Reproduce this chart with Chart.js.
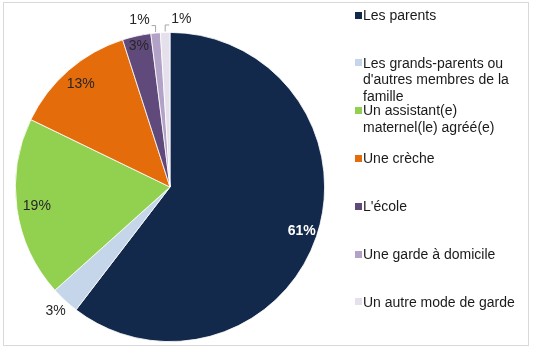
<!DOCTYPE html>
<html>
<head>
<meta charset="utf-8">
<script src="https://cdn.jsdelivr.net/npm/chart.js@4/dist/chart.umd.min.js"></script>
<style>
    body { margin: 0; background: #fff; font-family: "Liberation Sans", Arial, sans-serif; }
    #wrap { position: relative; width: 535px; height: 363px; overflow: hidden; }
    #frame { position: absolute; left: 3px; top: 2px; width: 526px; height: 344px; border: 1px solid #d9d9d9; box-sizing: border-box; }
    canvas { position: absolute; left: 0; top: 0; }
    #legend { position: absolute; left: 355px; top: 0; }
    .item { position: absolute; left: 0; width: 160px; padding-left: 8px; font-size: 14px; line-height: 16.5px; color: #1a1a1a; }
    .item i { position: absolute; left: 0; top: 4.75px; width: 7px; height: 7px; }
</style>
</head>
<body>
<div id="wrap">
    <div id="frame"></div>
    <canvas id="pie" width="535" height="363"></canvas>
    <div id="legend"></div>
</div>
<script>
// Data
const categories = [
    'Les parents',
    "Les grands-parents ou d'autres membres de la famille",
    'Un assistant(e) maternel(le) agréé(e)',
    'Une crèche',
    "L'école",
    'Une garde à domicile',
    'Un autre mode de garde'
];
const shares = [61, 3, 19, 13, 3, 1, 1];
const colors = ['#13294b', '#c5d5ea', '#92d050', '#e46c0a', '#604a7b', '#b3a2c7', '#e6e0ec'];

// label placement per slice (radius as share of the pie radius, or a callout side)
const labelStyle = [
    { r: 0.9, color: '#ffffff', bold: true },
    { r: 1.09 },
    { r: 0.87 },
    { r: 0.88 },
    { r: 0.93 },
    { callout: -1 },
    { callout: 1 }
];

const sliceLabels = {
    id: 'sliceLabels',
    afterDatasetsDraw(chart) {
        const ctx = chart.ctx;
        const meta = chart.getDatasetMeta(0);
        ctx.save();
        ctx.textBaseline = 'middle';
        meta.data.forEach((arc, i) => {
            const p = arc.getProps(['x', 'y', 'startAngle', 'endAngle', 'outerRadius'], true);
            const mid = (p.startAngle + p.endAngle) / 2;
            const st = labelStyle[i];
            const text = shares[i] + '%';
            ctx.font = (st.bold ? 'bold ' : '') + '14px "Liberation Sans", Arial, sans-serif';
            ctx.fillStyle = st.color || '#262626';
            if (st.callout) {
                const ax = p.x + p.outerRadius * Math.cos(mid);
                const ay = p.y + p.outerRadius * Math.sin(mid);
                const ly = ay - 13;
                ctx.strokeStyle = '#a6a6a6';
                ctx.lineWidth = 1;
                ctx.beginPath();
                ctx.moveTo(ax, ay - 1);
                ctx.lineTo(ax, ly + 5.5);
                ctx.lineTo(ax + st.callout * 4, ly + 5.5);
                ctx.stroke();
                ctx.textAlign = st.callout < 0 ? 'right' : 'left';
                ctx.fillText(text, ax + st.callout * 6, ly);
            } else {
                ctx.textAlign = 'center';
                const r = p.outerRadius * st.r;
                ctx.fillText(text, p.x + r * Math.cos(mid), p.y + r * Math.sin(mid));
            }
        });
        ctx.restore();
    }
};

function buildLegend() {
    const legend = document.getElementById('legend');
    categories.forEach((name, i) => {
        const div = document.createElement('div');
        div.className = 'item';
        div.style.top = (15 + i * 47.8 - 8.25) + 'px';
        div.innerHTML = `<i style="background:${colors[i]}"></i>${name}`;
        legend.appendChild(div);
    });
}

new Chart(document.getElementById('pie'), {
    type: 'pie',
    data: {
        labels: categories,
        datasets: [{
            data: shares,
            backgroundColor: colors,
            borderColor: '#ffffff',
            borderWidth: 0.8
        }]
    },
    options: {
        responsive: false,
        animation: false,
        layout: { padding: { left: 15, right: 210, top: 32, bottom: 21 } },
        plugins: { legend: { display: false }, tooltip: { enabled: false } }
    },
    plugins: [sliceLabels]
});

buildLegend();
</script>
</body>
</html>
